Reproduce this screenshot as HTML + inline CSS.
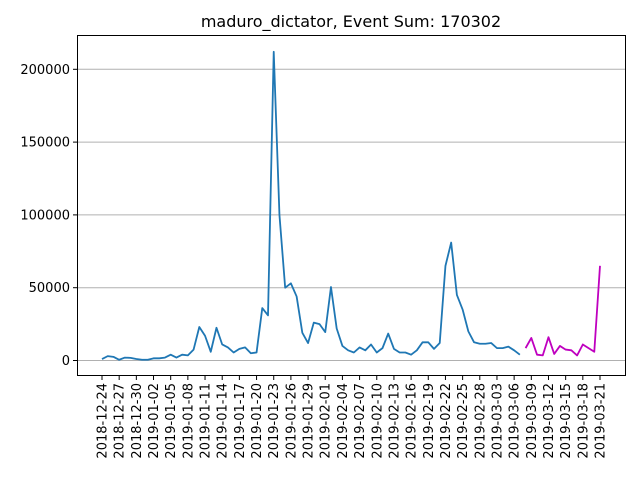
<!DOCTYPE html>
<html><head><meta charset="utf-8"><style>
body{margin:0;background:#fff;}
svg text{font-family:"DejaVu Sans","Liberation Sans",sans-serif;font-size:13px;fill:#000;}
</style></head><body>
<svg id="chart" width="640" height="480" xmlns="http://www.w3.org/2000/svg">
<text x="351" y="27" text-anchor="middle" style="font-size:16px">maduro_dictator, Event Sum: 170302</text>
<g id="grid"></g><g id="series"></g>
<rect x="77.5" y="35.5" width="548" height="340" fill="none" stroke="#000" stroke-width="1"/>
<g id="axes"></g>
</svg>
<script>
const yTicks=[0,50000,100000,150000,200000];
const yTickLabels=["0","50000","100000","150000","200000"];
const xTickLabels=["2018-12-24","2018-12-27","2018-12-30","2019-01-02","2019-01-05","2019-01-08","2019-01-11","2019-01-14","2019-01-17","2019-01-20","2019-01-23","2019-01-26","2019-01-29","2019-02-01","2019-02-04","2019-02-07","2019-02-10","2019-02-13","2019-02-16","2019-02-19","2019-02-22","2019-02-25","2019-02-28","2019-03-03","2019-03-06","2019-03-09","2019-03-12","2019-03-15","2019-03-18","2019-03-21"];
const histValues=[1000,3000,2500,500,2000,1800,1000,500,500,1500,1500,2000,4000,2000,4000,3500,7500,23000,17000,6000,22500,11000,9000,5500,8000,9000,5000,5500,36000,31000,212000,100000,50000,53000,44000,19000,12000,26000,25000,19500,50500,22000,10000,7000,5500,9000,7000,11000,5500,8500,18500,8000,5500,5500,4000,7000,12500,12500,8000,12000,65000,81000,45000,35000,20000,12500,11500,11500,12000,8500,8500,9500,7000,4000];
const predValues=[8500,15500,4000,3500,16000,4500,10000,7500,7000,3500,11000,8500,6000,65000];
const NS="http://www.w3.org/2000/svg";
const x=d=>102+d*(498/87);
const y=v=>360.5-v*(291.2/200000);
const svg=document.getElementById('chart');
const grid=document.getElementById('grid'),axes=document.getElementById('axes'),series=document.getElementById('series');
function mk(tag,attrs,parent){const e=document.createElementNS(NS,tag);for(const k in attrs)e.setAttribute(k,attrs[k]);parent.appendChild(e);return e;}
yTicks.forEach((v,i)=>{
 const g=mk('line',{x1:78,x2:625,y1:y(v),y2:y(v),stroke:'#b0b0b0','stroke-width':1},grid);
 
 
 const t=mk('line',{x1:73,x2:77.5,y1:y(v),y2:y(v),stroke:'#000'},axes);
 
 
 const l=mk('text',{x:70,y:y(v)+4.5,'text-anchor':'end'},axes);l.textContent=yTickLabels[i];
 
 
});
xTickLabels.forEach((s,i)=>{
 const xx=x(i*3);
 const t=mk('line',{x1:xx,x2:xx,y1:375.5,y2:380,stroke:'#000'},axes);
 
 
 const l=mk('text',{x:0,y:0,'text-anchor':'end',transform:`translate(${xx+4.5},383) rotate(-90)`},axes);l.textContent=s;
 
 
});
const p1=mk('polyline',{points:histValues.map((v,i)=>x(i)+','+y(v)).join(' '),fill:'none',stroke:'#1f77b4','stroke-width':1.8,'stroke-linejoin':'round'},series);


const off=histValues.length;
const p2=mk('polyline',{points:predValues.map((v,i)=>x(off+i)+','+y(v)).join(' '),fill:'none',stroke:'#bf00bf','stroke-width':1.8,'stroke-linejoin':'round'},series);


</script>
</body></html>
